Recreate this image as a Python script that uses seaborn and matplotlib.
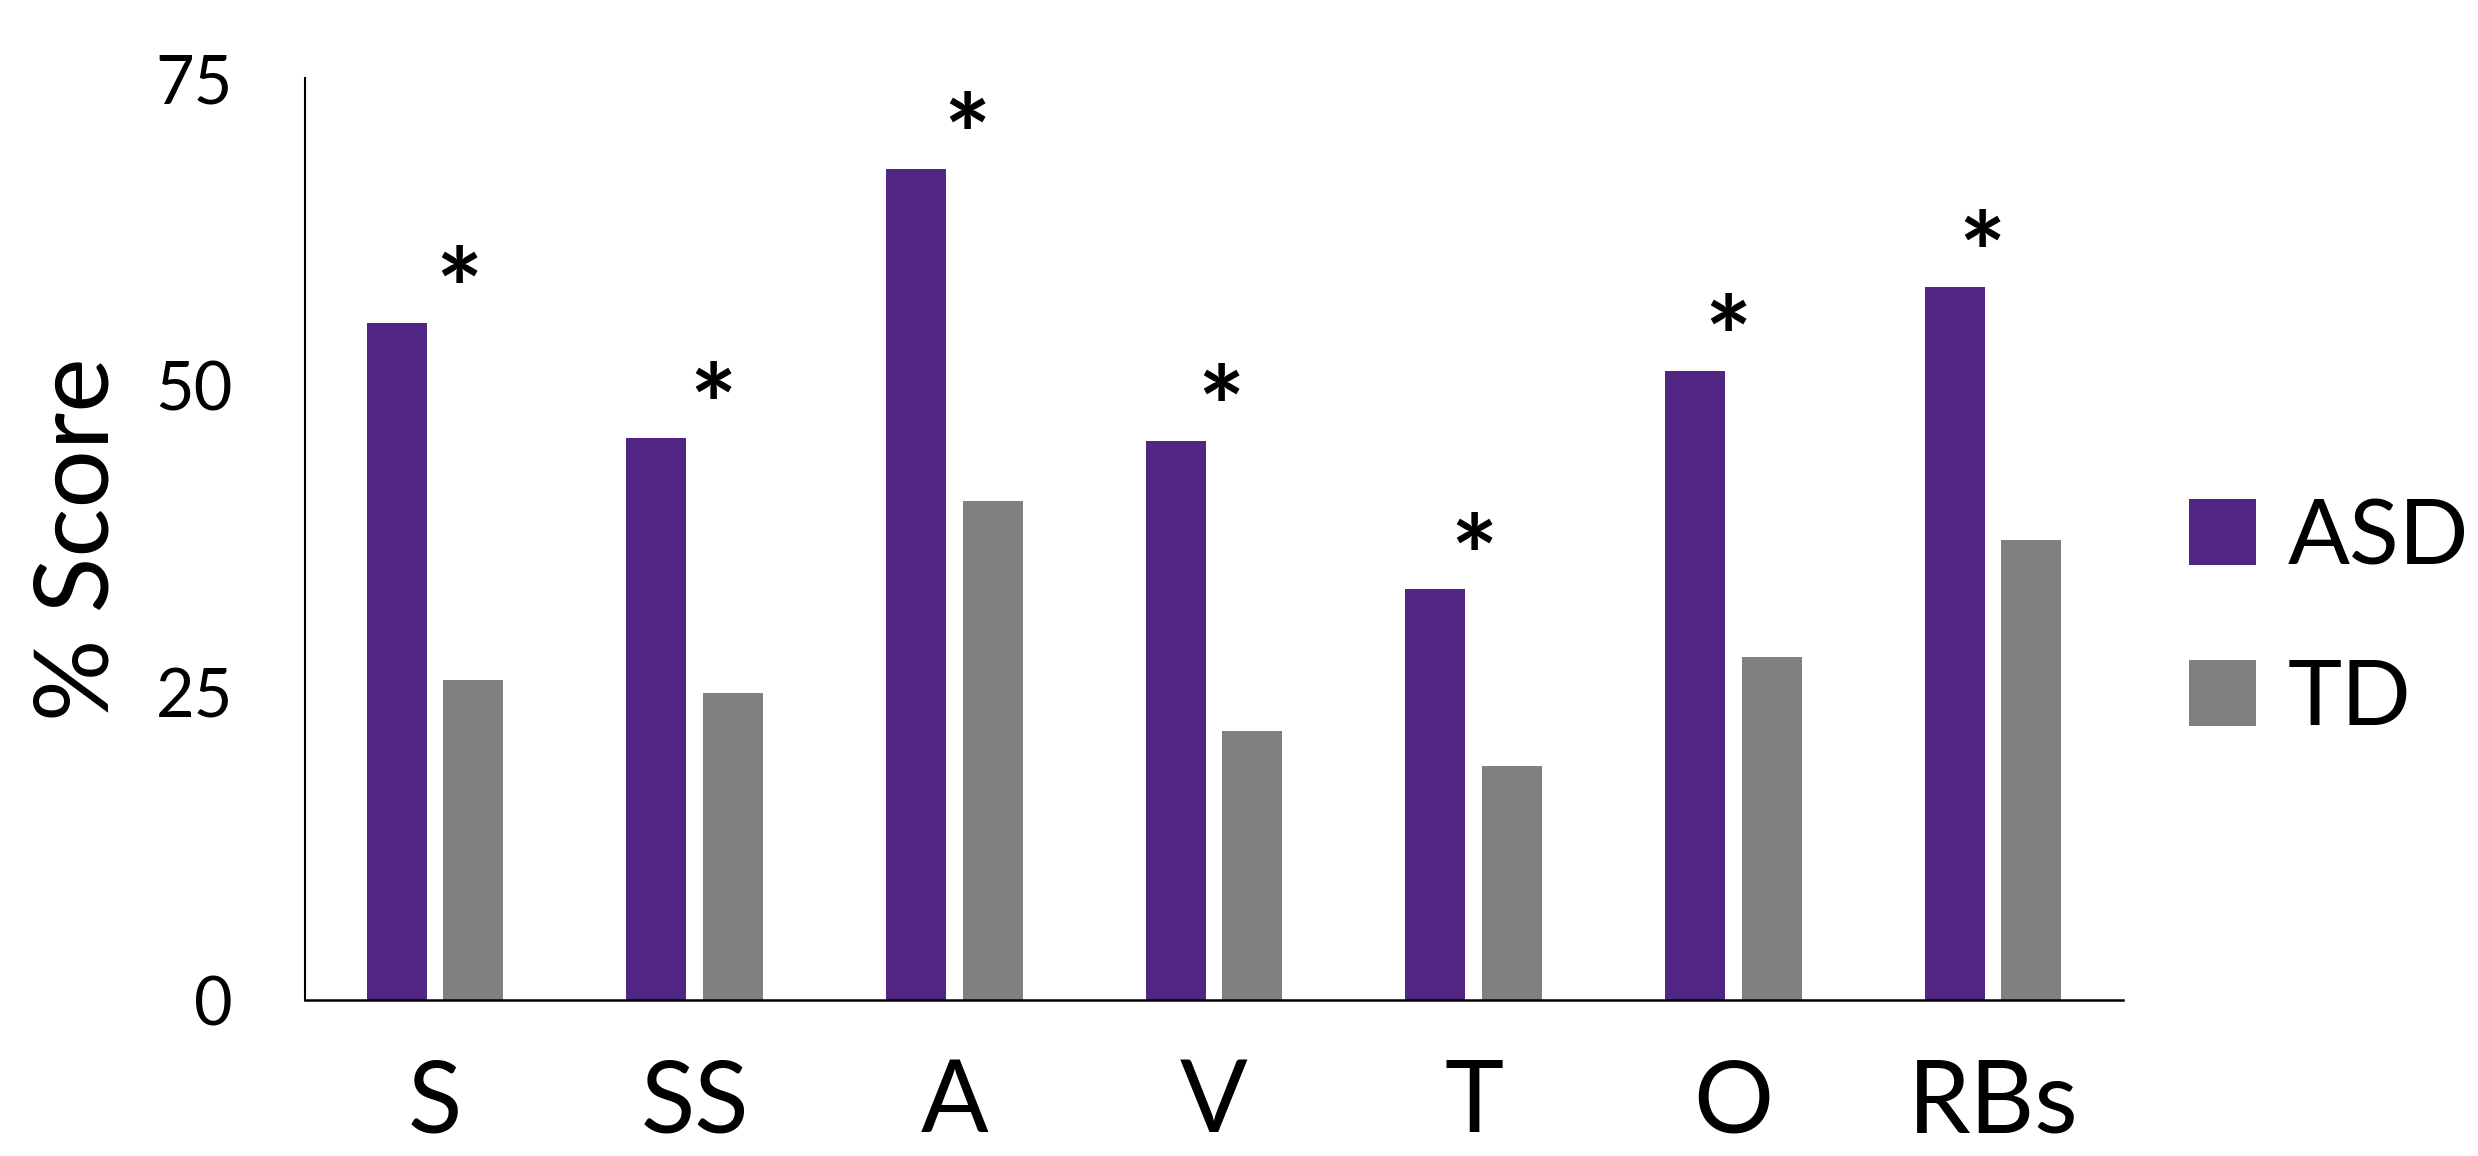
import pandas as pd
import matplotlib
matplotlib.use('Agg')
import matplotlib.pyplot as plt
import seaborn as sns

# values (% score)
categories = ['S', 'SS', 'A', 'V', 'T', 'O', 'RBs']
asd_scores = [55.1, 45.7, 67.6, 45.5, 33.4, 51.2, 58.0]
td_scores = [26.0, 25.0, 40.6, 21.9, 19.0, 27.9, 37.4]
groups = ['ASD', 'TD']
significant = [True, True, True, True, True, True, True]
y_ticks = [0, 25, 50, 75]

purple = '#512682'
grey = '#808080'

df = pd.DataFrame({
    'Category': categories * 2,
    'Score': asd_scores + td_scores,
    'Group': [groups[0]] * len(categories) + [groups[1]] * len(categories),
})

sns.set_style('white')
plt.rcParams['font.family'] = ['Lato', 'DejaVu Sans']
plt.rcParams['text.color'] = 'black'
plt.rcParams['xtick.color'] = 'black'
plt.rcParams['ytick.color'] = 'black'
plt.rcParams['axes.labelcolor'] = 'black'

fig = plt.figure(figsize=(24.78, 11.56), dpi=100)
ax = fig.add_axes([0.1231, 0.1349, 0.7336, 0.7976])

sns.barplot(data=df, x='Category', y='Score', hue='Group', order=categories,
            hue_order=groups, palette=[purple, grey], width=0.59, gap=0.217,
            saturation=1, linewidth=0, ax=ax)

# asterisks over the ASD bars (typed in a text line, so they drift slightly left)
for i, (val, sig) in enumerate(zip(asd_scores, significant)):
    if sig:
        ax.text(i * 0.977 + 0.094, val - 0.6, '*', fontsize=80, fontweight='bold',
                ha='center', va='baseline')

ax.set_xlim(-0.5, len(categories) - 0.5)
ax.set_ylim(0, 75)
ax.set_yticks(y_ticks)
ax.tick_params(axis='y', length=0, pad=52, labelsize=48)
ax.tick_params(axis='x', length=0, pad=42, labelsize=72)
ax.set_xlabel('')
ax.set_ylabel('% Score', fontsize=74, va='center')
ax.yaxis.set_label_coords(-0.124, 0.5)

for side in ['top', 'right']:
    ax.spines[side].set_visible(False)
ax.spines['left'].set_linewidth(1.5)
ax.spines['bottom'].set_linewidth(1.8)
ax.spines['left'].set_color('black')
ax.spines['bottom'].set_color('black')

handles, labels = ax.get_legend_handles_labels()
ax.legend(handles, labels, loc='center left', bbox_to_anchor=(0.8834, 0.4644),
          bbox_transform=fig.transFigure, frameon=False, fontsize=66,
          handlelength=0.73, handleheight=0.73, handletextpad=0.35,
          labelspacing=0.85, borderpad=0, borderaxespad=0)

fig.savefig('out.png', dpi=100)
